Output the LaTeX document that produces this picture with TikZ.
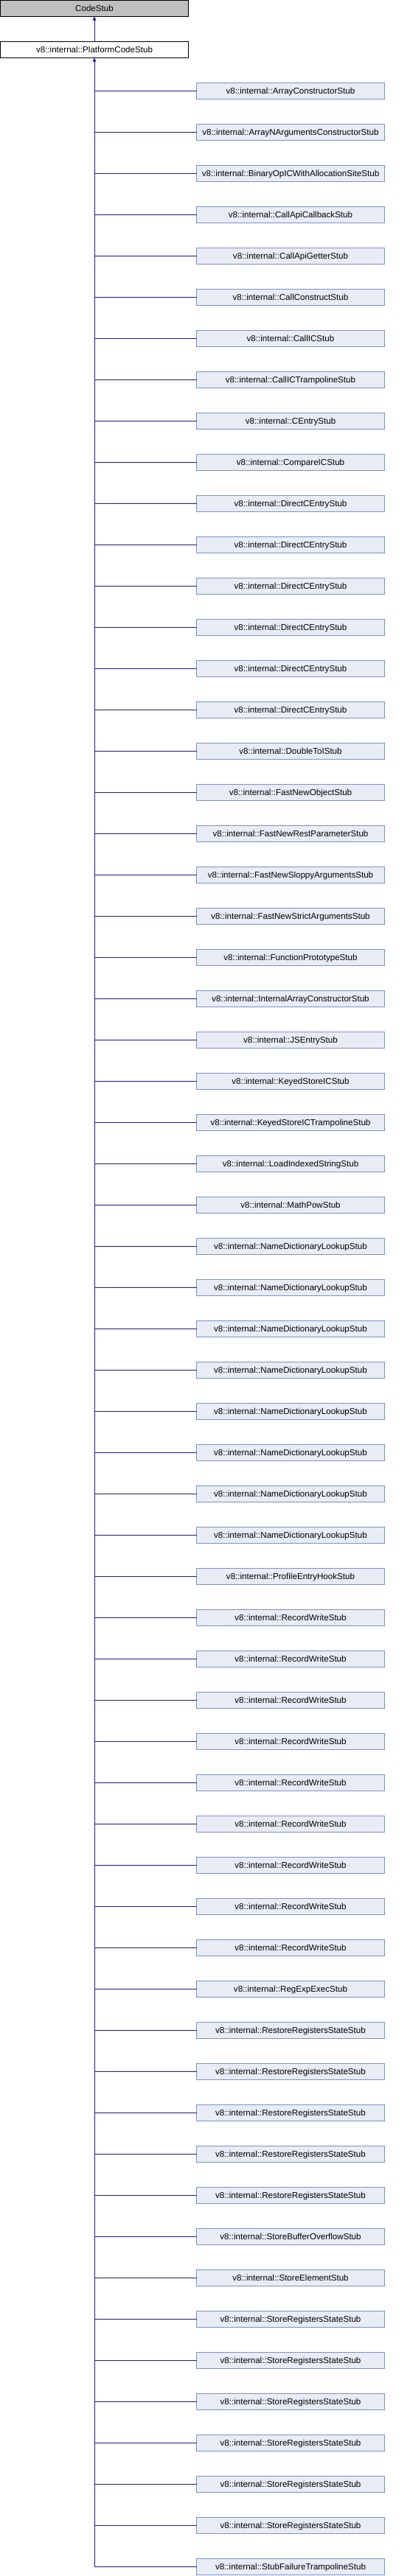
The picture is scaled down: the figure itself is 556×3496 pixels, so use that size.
\documentclass[tikz,border=0pt]{standalone}
\usepackage{fontspec}
\setmainfont{Liberation Sans}
\usetikzlibrary{arrows.meta}
\definecolor{edgeblue}{RGB}{26,26,140}
\definecolor{childfill}{RGB}{232,236,245}
\definecolor{childdraw}{RGB}{124,145,204}
\definecolor{rootfill}{RGB}{191,191,191}
\begin{document}
\begin{tikzpicture}[x=1pt,y=-1pt,
  basebox/.style={rectangle, line width=1pt, minimum width=255pt, minimum height=22pt,
    inner sep=0pt, outer sep=0pt, text height=8.3pt, text depth=0pt,
    font=\fontsize{11.6pt}{13pt}\selectfont},
  rootbox/.style={basebox, draw=black, fill=rootfill},
  platbox/.style={basebox, draw=black, fill=white},
  childbox/.style={basebox, draw=childdraw, fill=childfill},
  edge/.style={draw=edgeblue, line width=1pt},
  inh/.style={edge, -{Triangle[length=5pt,width=4.5pt]}}]
\useasboundingbox (0,0) rectangle (556,3496);
\node[rootbox] (code) at (128,11.5) {CodeStub};
\node[platbox] (plat) at (128,67.5) {v8::internal::PlatformCodeStub};
\draw[inh] (plat.north) -- (code.south);
\foreach \n [count=\i from 0] in {ArrayConstructorStub,ArrayNArgumentsConstructorStub,BinaryOpICWithAllocationSiteStub,CallApiCallbackStub,CallApiGetterStub,CallConstructStub,CallICStub,CallICTrampolineStub,CEntryStub,CompareICStub,DirectCEntryStub,DirectCEntryStub,DirectCEntryStub,DirectCEntryStub,DirectCEntryStub,DirectCEntryStub,DoubleToIStub,FastNewObjectStub,FastNewRestParameterStub,FastNewSloppyArgumentsStub,FastNewStrictArgumentsStub,FunctionPrototypeStub,InternalArrayConstructorStub,JSEntryStub,KeyedStoreICStub,KeyedStoreICTrampolineStub,LoadIndexedStringStub,MathPowStub,NameDictionaryLookupStub,NameDictionaryLookupStub,NameDictionaryLookupStub,NameDictionaryLookupStub,NameDictionaryLookupStub,NameDictionaryLookupStub,NameDictionaryLookupStub,NameDictionaryLookupStub,ProfileEntryHookStub,RecordWriteStub,RecordWriteStub,RecordWriteStub,RecordWriteStub,RecordWriteStub,RecordWriteStub,RecordWriteStub,RecordWriteStub,RecordWriteStub,RegExpExecStub,RestoreRegistersStateStub,RestoreRegistersStateStub,RestoreRegistersStateStub,RestoreRegistersStateStub,RestoreRegistersStateStub,StoreBufferOverflowStub,StoreElementStub,StoreRegistersStateStub,StoreRegistersStateStub,StoreRegistersStateStub,StoreRegistersStateStub,StoreRegistersStateStub,StoreRegistersStateStub,StubFailureTrampolineStub}{
  \node[childbox] (c\i) at (394,{123.5+56*\i}) {v8::internal::\n};
  \draw[edge] (c\i.west) -- (c\i.west -| plat.south);
}
\draw[inh] (c60.west -| plat.south) -- (plat.south);
\end{tikzpicture}
\end{document}
